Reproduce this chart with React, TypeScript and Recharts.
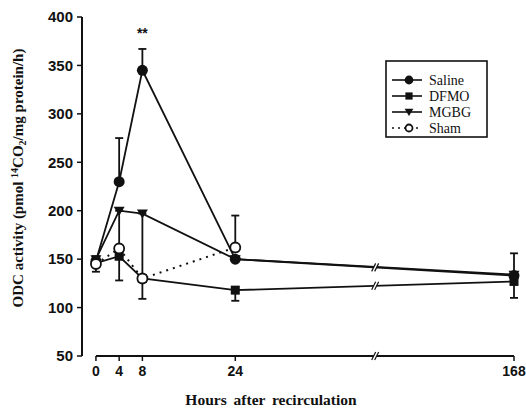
import {
  LineChart,
  Line,
  XAxis,
  YAxis,
  ErrorBar,
  Legend,
  ReferenceLine,
  ReferenceDot,
  LabelList,
} from 'recharts'

// hours after recirculation and ODC activity per group
const hours = [0, 4, 8, 24, 168]
const saline = [148, 230, 345, 150, 133]
const dfmo = [146, 153, 130, 118, 127]
const mgbg = [150, 200, 197, 150, 134]
const sham = [145, 161, 130, 162, null]

// [below, above] error lengths
const salineErr = [[0, 0], [0, 45], [0, 22], [0, 0], [0, 0]]
const dfmoErr = [[0, 0], [0, 0], [0, 0], [11, 0], [17, 0]]
const mgbgErr = [[0, 0], [72, 0], [88, 0], [0, 0], [0, 22]]
const shamErr = [[8, 8], [0, 0], [0, 0], [0, 33], null]

const significance = ['', '', '**', '', '']
const yTicks = [50, 100, 150, 200, 250, 300, 350, 400]

// axis is broken between 24 and 168 h
const axisPos = (h: number) => (h <= 24 ? h : 24 + (h - 24) / 3)
const breakPos = (axisPos(24) + axisPos(168)) / 2

const data = hours.map((h, i) => ({
  pos: axisPos(h),
  hours: h,
  saline: saline[i],
  dfmo: dfmo[i],
  mgbg: mgbg[i],
  sham: sham[i],
  salineErr: salineErr[i],
  dfmoErr: dfmoErr[i],
  mgbgErr: mgbgErr[i],
  shamErr: shamErr[i],
  sig: significance[i],
}))

const last = hours.length - 1
const breakY = [
  (saline[last - 1] + saline[last]) / 2,
  (dfmo[last - 1] + dfmo[last]) / 2,
]

const INK = '#111'
const serif = 'Liberation Serif, Times New Roman, serif'
const sans = 'Liberation Sans, Arial, sans-serif'

// marker shapes; `size` scales them (legend uses smaller ones)
const FilledCircle = (p: any) =>
  p.cx == null || p.value == null ? null : <circle cx={p.cx} cy={p.cy} r={5.5 * (p.size ?? 1)} fill={INK} />
const FilledSquare = (p: any) => {
  if (p.cx == null || p.value == null) return null
  const h = 4.5 * (p.size ?? 1)
  return <rect x={p.cx - h} y={p.cy - h} width={2 * h} height={2 * h} fill={INK} />
}
const FilledTriangle = (p: any) => {
  if (p.cx == null || p.value == null) return null
  const s = p.size ?? 1
  return (
    <polygon
      points={`${p.cx - 5.5 * s},${p.cy - 4 * s} ${p.cx + 5.5 * s},${p.cy - 4 * s} ${p.cx},${p.cy + 5 * s}`}
      fill={INK}
    />
  )
}
const OpenCircle = (p: any) =>
  p.cx == null || p.value == null ? null : (
    <circle cx={p.cx} cy={p.cy} r={5 * (p.size ?? 1)} fill="#fff" stroke={INK} strokeWidth={1.8} />
  )

const BreakMark = (p: any) => (
  <g>
    <polygon
      points={`${p.cx - 3},${p.cy + 4} ${p.cx + 1},${p.cy - 4} ${p.cx + 4},${p.cy - 4} ${p.cx},${p.cy + 4}`}
      fill="#fff"
    />
    <line x1={p.cx - 3} y1={p.cy + 4} x2={p.cx + 1} y2={p.cy - 4} stroke={INK} strokeWidth={1.2} />
    <line x1={p.cx} y1={p.cy + 4} x2={p.cx + 4} y2={p.cy - 4} stroke={INK} strokeWidth={1.2} />
  </g>
)

const legendItems = [
  { name: 'Saline', marker: FilledCircle, size: 0.8, dash: undefined },
  { name: 'DFMO', marker: FilledSquare, size: 0.8, dash: undefined },
  { name: 'MGBG', marker: FilledTriangle, size: 0.8, dash: undefined },
  { name: 'Sham', marker: OpenCircle, size: 0.7, dash: '2 4' },
]

function LegendBox() {
  return (
    <svg width={103} height={78}>
      <rect x={1} y={1} width={101} height={76} fill="#fff" stroke={INK} strokeWidth={1.6} />
      {legendItems.map((item, i) => {
        const y = 20 + i * 16
        const M = item.marker
        return (
          <g key={item.name}>
            <line x1={7} y1={y} x2={37} y2={y} stroke={INK} strokeWidth={1.6} strokeDasharray={item.dash} />
            <M cx={24} cy={y} size={item.size} value={1} />
            <text x={44} y={y + 4.5} fontFamily={serif} fontSize={14} fill={INK}>
              {item.name}
            </text>
          </g>
        )
      })}
    </svg>
  )
}

const YTitle = () => (
  <text
    transform="translate(23,178) rotate(-90)"
    textAnchor="middle"
    fontFamily={serif}
    fontSize={15}
    fontWeight="bold"
    fill={INK}
  >
    ODC activity (pmol{' '}
    <tspan dy={-5} fontSize={10}>14</tspan>
    <tspan dy={5}>CO</tspan>
    <tspan dy={3} fontSize={10}>2</tspan>
    <tspan dy={-3}>/mg protein/h)</tspan>
  </text>
)

const XTitle = () => (
  <text x={271} y={405} textAnchor="middle" fontFamily={serif} fontSize={15.5} fontWeight="bold" wordSpacing={3} fill={INK}>
    Hours after recirculation
  </text>
)

export default function App() {
  return (
    <div style={{ position: 'absolute', left: 0, top: 0, width: 526, height: 409, background: '#fff' }}>
      <LineChart width={526} height={409} data={data} margin={{ top: 17, right: 12, bottom: 23, left: 22 }}>
        <XAxis
          type="number"
          dataKey="pos"
          domain={[-2.4, axisPos(168)]}
          ticks={hours.map(axisPos)}
          tickFormatter={(v: number) => String(hours[hours.map(axisPos).indexOf(v)])}
          axisLine={false}
          tickLine={{ stroke: INK, strokeWidth: 1.5 }}
          tickSize={5}
          tickMargin={5}
          height={30}
          tick={{ fontFamily: sans, fontSize: 14, fontWeight: 'bold', fill: INK }}
          label={{ content: () => <XTitle /> }}
        />
        <YAxis
          domain={[50, 400]}
          ticks={yTicks}
          width={60}
          axisLine={{ stroke: INK, strokeWidth: 2 }}
          tickLine={{ stroke: INK, strokeWidth: 1.5 }}
          tickSize={5}
          tickMargin={4}
          tick={{ fontFamily: sans, fontSize: 15, fontWeight: 'bold', fill: INK }}
          label={{ content: () => <YTitle /> }}
        />
        <ReferenceLine
          segment={[{ x: 0, y: 50 }, { x: axisPos(168), y: 50 }]}
          stroke={INK}
          strokeWidth={2}
          ifOverflow="visible"
        />
        <Legend
          layout="horizontal"
          verticalAlign="middle"
          align="center"
          content={() => <LegendBox />}
          wrapperStyle={{ position: 'absolute', left: 385, top: 60, width: 103, height: 78 }}
        />
        <Line
          dataKey="dfmo"
          type="linear"
          stroke={INK}
          strokeWidth={1.8}
          dot={<FilledSquare />}
          activeDot={false}
          isAnimationActive={false}
        >
          <ErrorBar dataKey="dfmoErr" width={4} stroke={INK} strokeWidth={1.8} direction="y" />
        </Line>
        <Line
          dataKey="mgbg"
          type="linear"
          stroke={INK}
          strokeWidth={1.8}
          dot={<FilledTriangle />}
          activeDot={false}
          isAnimationActive={false}
        >
          <ErrorBar dataKey="mgbgErr" width={4} stroke={INK} strokeWidth={1.8} direction="y" />
        </Line>
        <Line
          dataKey="saline"
          type="linear"
          stroke={INK}
          strokeWidth={1.8}
          dot={<FilledCircle />}
          activeDot={false}
          isAnimationActive={false}
        >
          <ErrorBar dataKey="salineErr" width={4} stroke={INK} strokeWidth={1.8} direction="y" />
          <LabelList
            dataKey="sig"
            content={(p: any) =>
              p.value ? (
                <text x={p.x} y={p.y - 32} textAnchor="middle" fontFamily={sans} fontSize={14} fontWeight="bold" fill={INK}>
                  {p.value}
                </text>
              ) : null
            }
          />
        </Line>
        <Line
          dataKey="sham"
          type="linear"
          stroke={INK}
          strokeWidth={2}
          strokeDasharray="2 5"
          dot={<OpenCircle />}
          activeDot={false}
          isAnimationActive={false}
        >
          <ErrorBar dataKey="shamErr" width={4} stroke={INK} strokeWidth={1.8} direction="y" />
        </Line>
        <ReferenceDot x={breakPos} y={50} r={0} shape={BreakMark} ifOverflow="visible" />
        {breakY.map((v, i) => (
          <ReferenceDot key={i} x={breakPos} y={v} r={0} shape={BreakMark} ifOverflow="visible" />
        ))}
      </LineChart>
    </div>
  )
}
